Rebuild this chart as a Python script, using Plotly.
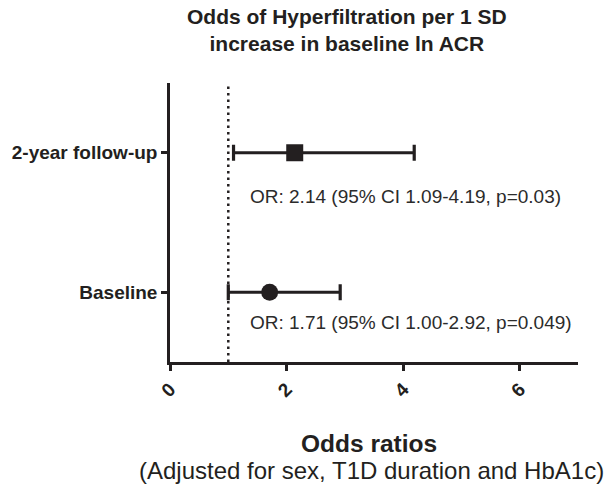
import plotly.graph_objects as go

categories = ["Baseline", "2-year follow-up"]
odds_ratio = [1.71, 2.14]
ci_low = [1.00, 1.09]
ci_high = [2.92, 4.19]
marker_symbols = ["circle", "square"]
or_labels = ["OR: 1.71 (95% CI 1.00-2.92, p=0.049)", "OR: 2.14 (95% CI 1.09-4.19, p=0.03)"]
x_ticks = [0, 2, 4, 6]
reference_line = 1

ink = "#231f20"
font_family = "Liberation Sans, Arial, sans-serif"
ypos = list(range(len(categories)))
label_dy = [-0.22, -0.317]  # vertical placement of OR text under each row

fig = go.Figure()
fig.add_trace(go.Scatter(
    x=odds_ratio, y=ypos, mode="markers",
    marker=dict(symbol=marker_symbols, size=17, color=ink, line=dict(width=0)),
    error_x=dict(type="data", symmetric=False,
                 array=[h - o for h, o in zip(ci_high, odds_ratio)],
                 arrayminus=[o - l for o, l in zip(odds_ratio, ci_low)],
                 color=ink, thickness=3.2, width=8),
    showlegend=False, cliponaxis=False, hoverinfo="skip",
))

fig.add_shape(type="line", x0=reference_line, x1=reference_line, y0=0, y1=1,
              xref="x", yref="paper", line=dict(color=ink, width=2.5, dash="2.5px,4px"), layer="below")

for i, lab in enumerate(or_labels):
    fig.add_annotation(x=1.33, y=ypos[i] + label_dy[i], xref="x", yref="y", text=lab,
                       showarrow=False, xanchor="left", yanchor="middle",
                       font=dict(size=19, color="#2b2b2b", family=font_family))

fig.add_annotation(x=0.433, y=1, xref="paper", yref="paper", yanchor="middle", yshift=53,
                   text="<b>Odds of Hyperfiltration per 1 SD<br>increase in baseline ln ACR</b>",
                   showarrow=False, font=dict(size=21, color=ink, family=font_family))
fig.add_annotation(x=0.488, y=0, xref="paper", yref="paper", yanchor="middle", yshift=-81,
                   text="<b>Odds ratios</b>", showarrow=False,
                   font=dict(size=24.5, color=ink, family=font_family))
fig.add_annotation(x=0.493, y=0, xref="paper", yref="paper", yanchor="middle", yshift=-108,
                   text="(Adjusted for sex, T1D duration and HbA1c)", showarrow=False,
                   font=dict(size=24, color=ink, family=font_family))

fig.update_xaxes(range=[0, 7], tickvals=x_ticks, ticktext=["<b>%d</b>" % t for t in x_ticks],
                 tickangle=-45, showline=True, linecolor=ink, linewidth=2.5,
                 ticks="outside", ticklen=6, tickwidth=2.5, tickcolor=ink,
                 showgrid=False, zeroline=False,
                 tickfont=dict(size=19, color=ink, family=font_family))
fig.update_yaxes(range=[-0.5, 1.5], tickvals=ypos,
                 ticktext=["<b>%s</b>" % c for c in categories],
                 showline=True, linecolor=ink, linewidth=2.5,
                 ticks="outside", ticklen=6, tickwidth=2.5, tickcolor=ink,
                 showgrid=False, zeroline=False,
                 tickfont=dict(size=19, color=ink, family=font_family))

fig.update_layout(width=610, height=485, margin=dict(l=162, r=32, t=83, b=123),
                  plot_bgcolor="white", paper_bgcolor="white", hovermode=False,
                  font=dict(family=font_family, color=ink))

fig.write_html("out.html", config={"displayModeBar": False},
               post_script="document.body.style.margin='0px';")
